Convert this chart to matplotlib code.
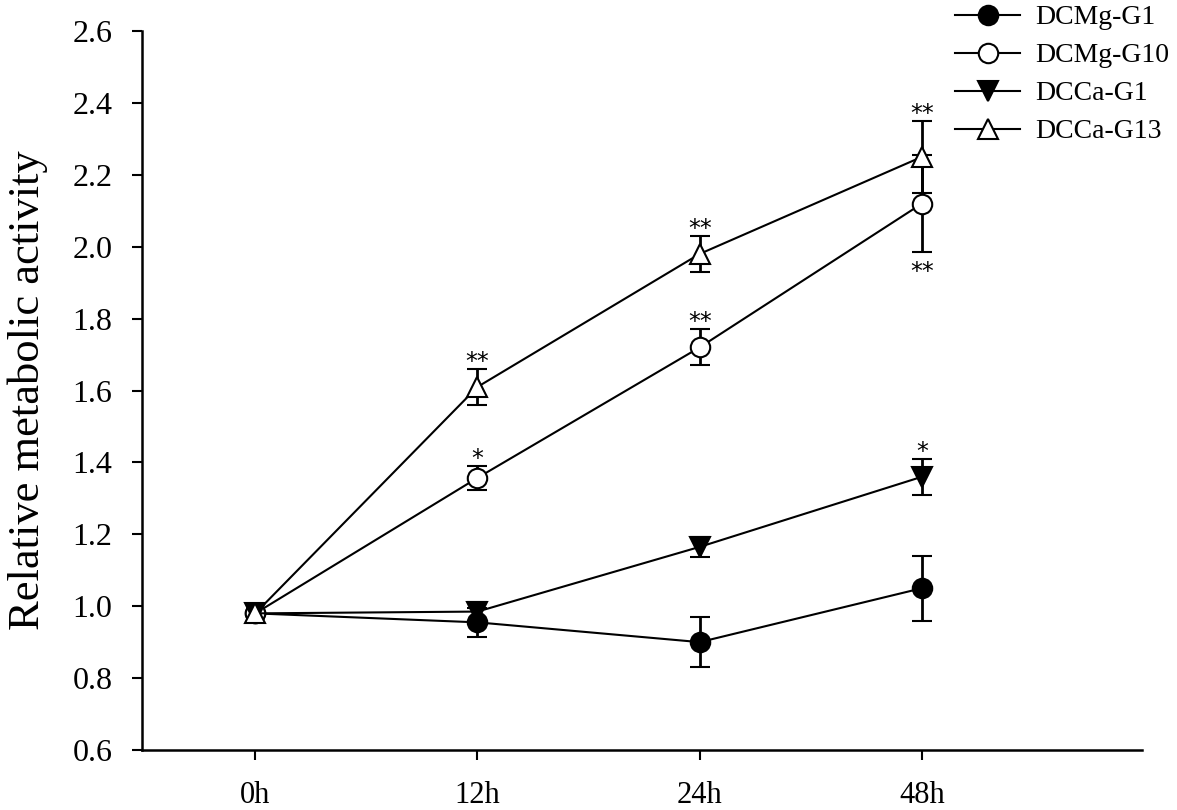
import matplotlib
matplotlib.use("Agg")
import matplotlib.pyplot as plt

plt.rcParams["font.family"] = ["Liberation Serif", "DejaVu Serif"]

time_labels = ["0h", "12h", "24h", "48h"]
time_pos = [0, 1, 2, 3]

mg_g1 = [0.98, 0.955, 0.90, 1.05]
mg_g1_err = [0.0, 0.04, 0.07, 0.09]
mg_g10 = [0.98, 1.357, 1.72, 2.12]
mg_g10_err = [0.0, 0.033, 0.05, 0.135]
ca_g1 = [0.98, 0.985, 1.165, 1.36]
ca_g1_err = [0.0, 0.027, 0.027, 0.05]
ca_g13 = [0.98, 1.61, 1.98, 2.25]
ca_g13_err = [0.0, 0.05, 0.05, 0.10]

# significance marks: (time index, text, side)
mg_g10_sig = [(1, "*", "up"), (2, "**", "up"), (3, "**", "down")]
ca_g1_sig = [(3, "*", "up")]
ca_g13_sig = [(1, "**", "up"), (2, "**", "up"), (3, "**", "up")]

series = [
    ("DCMg-G1", mg_g1, mg_g1_err, "o", "black", []),
    ("DCMg-G10", mg_g10, mg_g10_err, "o", "white", mg_g10_sig),
    ("DCCa-G1", ca_g1, ca_g1_err, "v", "black", ca_g1_sig),
    ("DCCa-G13", ca_g13, ca_g13_err, "^", "white", ca_g13_sig),
]

fig = plt.figure(figsize=(11.77, 8.10), dpi=100)
ax = fig.add_axes([0.1206, 0.0741, 0.8496, 0.8876])

handles = []
names = []
for name, vals, errs, mk, face, sig in series:
    c = ax.errorbar(time_pos, vals, yerr=errs, fmt="-", color="black", lw=1.5,
                    marker=mk, markersize=14, markerfacecolor=face,
                    markeredgecolor="black", markeredgewidth=1.5,
                    elinewidth=2, capsize=7.5, capthick=2,
                    errorevery=(1, 1))
    handles.append(c[0])
    names.append(name)
    for i, txt, side in sig:
        if side == "up":
            ax.annotate(txt, (time_pos[i], vals[i] + errs[i]), xytext=(0, 5),
                        textcoords="offset points", ha="center", va="center",
                        fontsize=17, fontfamily="DejaVu Sans")
        else:
            ax.annotate(txt, (time_pos[i], vals[i] - errs[i]), xytext=(0, -14),
                        textcoords="offset points", ha="center", va="center",
                        fontsize=17, fontfamily="DejaVu Sans")

ax.set_xlim(-0.51, 3.99)
ax.set_ylim(0.6, 2.6)
ax.set_xticks(time_pos)
ax.set_xticklabels(time_labels)
ax.set_yticks([0.6, 0.8, 1.0, 1.2, 1.4, 1.6, 1.8, 2.0, 2.2, 2.4, 2.6])
ax.set_yticklabels(["%.1f" % v for v in ax.get_yticks()])

ax.spines["top"].set_visible(False)
ax.spines["right"].set_visible(False)
ax.spines["left"].set_linewidth(1.8)
ax.spines["bottom"].set_linewidth(1.8)
ax.tick_params(axis="both", direction="out", length=7.2, width=1.5)
ax.tick_params(axis="x", labelsize=22, pad=15)
ax.tick_params(axis="y", labelsize=23, pad=14)

ax.set_ylabel("Relative metabolic activity", fontsize=32)
ax.yaxis.set_label_coords(-0.094, 0.5)

ax.legend(handles, names, loc="upper left",
          bbox_to_anchor=(955 / 1177, 1 - 5 / 810),
          bbox_transform=fig.transFigure, frameon=False, fontsize=20,
          handlelength=2.35, handletextpad=0.55, labelspacing=0.45,
          borderpad=0, borderaxespad=0)

fig.savefig("out.png", dpi=100)
